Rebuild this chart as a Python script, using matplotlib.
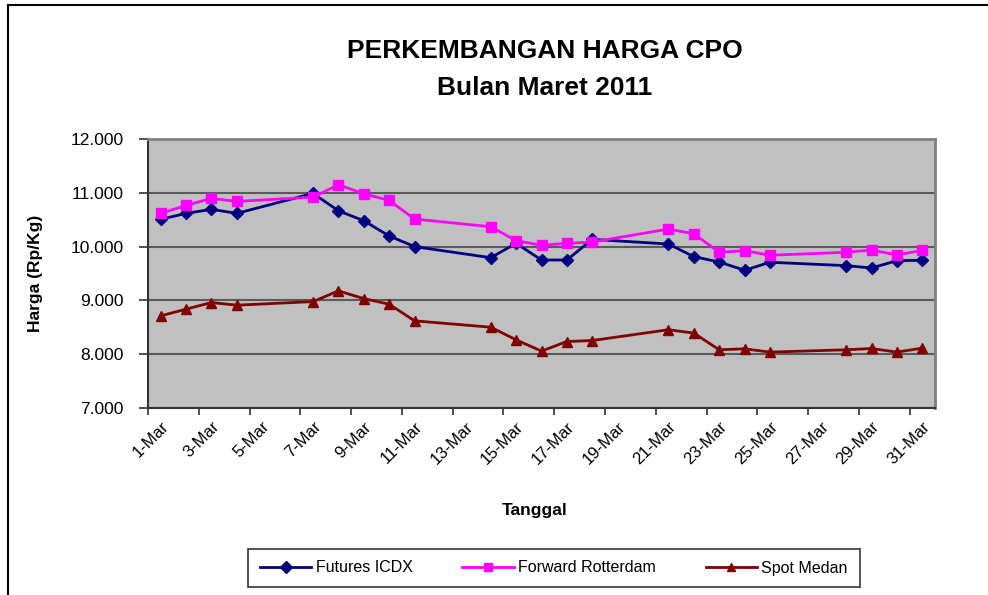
import matplotlib
matplotlib.use("Agg")
import matplotlib.pyplot as plt
from matplotlib.lines import Line2D

days = list(range(1, 32))
obs_days = [1, 2, 3, 4, 7, 8, 9, 10, 11, 14, 15, 16, 17, 18, 21, 22, 23, 24, 25, 28, 29, 30, 31]
futures_icdx = [10506, 10618, 10692, 10618, 10989, 10666, 10481, 10197, 10000, 9794, 10061, 9751,
                9751, 10135, 10048, 9813, 9714, 9560, 9709, 9646, 9603, 9738, 9746]
forward_rotterdam = [10618, 10766, 10896, 10840, 10920, 11149, 10982, 10859, 10512, 10369, 10110, 10024,
                     10061, 10085, 10326, 10239, 9894, 9924, 9839, 9894, 9937, 9844, 9931]
spot_medan = [8712, 8837, 8960, 8911, 8978, 9176, 9034, 8929, 8620, 8502, 8267, 8057,
              8236, 8254, 8455, 8392, 8082, 8100, 8039, 8082, 8106, 8039, 8113]
tick_days = list(range(1, 32, 2))
tick_labels = [f"{d}-Mar" for d in tick_days]
y_ticks = [7000, 8000, 9000, 10000, 11000, 12000]
y_labels = ["7.000", "8.000", "9.000", "10.000", "11.000", "12.000"]

plt.rcParams['font.family'] = ['Liberation Sans', 'DejaVu Sans']

W, H = 988, 595
fig = plt.figure(figsize=(W / 100, H / 100), dpi=100)
fig.patch.set_facecolor('white')

# figure frame (top and left lines)
fig.add_artist(Line2D([8 / W, 1.0], [1 - 5 / H, 1 - 5 / H], color='black', lw=1.5, transform=fig.transFigure))
fig.add_artist(Line2D([8 / W, 8 / W], [0, 1 - 5 / H], color='black', lw=1.5, transform=fig.transFigure))

ax = fig.add_axes([148 / W, 1 - 408 / H, (935 - 148) / W, (408 - 139) / H])
ax.set_facecolor('#C0C0C0')

ax.plot(obs_days, futures_icdx, color='#000080', lw=2.0, marker='D', ms=6.5,
        label='Futures ICDX', zorder=3)
ax.plot(obs_days, forward_rotterdam, color='#FF00FF', lw=2.0, marker='s', ms=7.5,
        label='Forward Rotterdam', zorder=3)
ax.plot(obs_days, spot_medan, color='#800000', lw=2.0, marker='^', ms=7.5,
        label='Spot Medan', zorder=3)

ax.set_xlim(0.5, 31.5)
ax.set_ylim(7000, 12000)
ax.set_yticks(y_ticks)
ax.set_yticklabels(y_labels, fontsize=12.5)
ax.yaxis.grid(True, color='#5a5a5a', lw=1.5)
ax.set_axisbelow(True)

ax.set_xticks(tick_days)
ax.set_xticklabels(tick_labels, rotation=45, ha='right', rotation_mode='anchor', fontsize=12)
ax.tick_params(axis='x', which='major', length=0, pad=8)
ax.set_xticks([d - 0.5 for d in tick_days], minor=True)
ax.tick_params(axis='x', which='minor', length=5, width=1.2, color='#333333', direction='out')
ax.tick_params(axis='y', length=6.5, width=1.2, color='#333333', direction='out', pad=11)

for side in ['top', 'right']:
    ax.spines[side].set_color('#808080')
    ax.spines[side].set_linewidth(2)
for side in ['left', 'bottom']:
    ax.spines[side].set_color('#333333')
    ax.spines[side].set_linewidth(1.5)

ax.set_ylabel('Harga (Rp/Kg)', fontsize=12.5, fontweight='bold')
ax.yaxis.set_label_coords((43 - 148) / 787, 0.5)
fig.text(535 / W, 1 - 510 / H, 'Tanggal', ha='center', va='center', fontsize=12.5, fontweight='bold')

fig.text(545 / W, 1 - 51 / H, 'PERKEMBANGAN HARGA CPO', ha='center', va='center',
         fontsize=19, fontweight='bold')
fig.text(545 / W, 1 - 88 / H, 'Bulan Maret 2011', ha='center', va='center',
         fontsize=19, fontweight='bold')

leg = fig.legend(loc='center', bbox_to_anchor=(554 / W, 1 - 568 / H), ncol=3, fontsize=11.5,
                 frameon=True, fancybox=False, edgecolor='black', handlelength=3.2,
                 columnspacing=3.1, handletextpad=0.3, borderpad=0.75)
leg.get_frame().set_linewidth(1.2)
for h in leg.legend_handles:
    h.set_markersize(6)

fig.savefig('out.png', dpi=100)
